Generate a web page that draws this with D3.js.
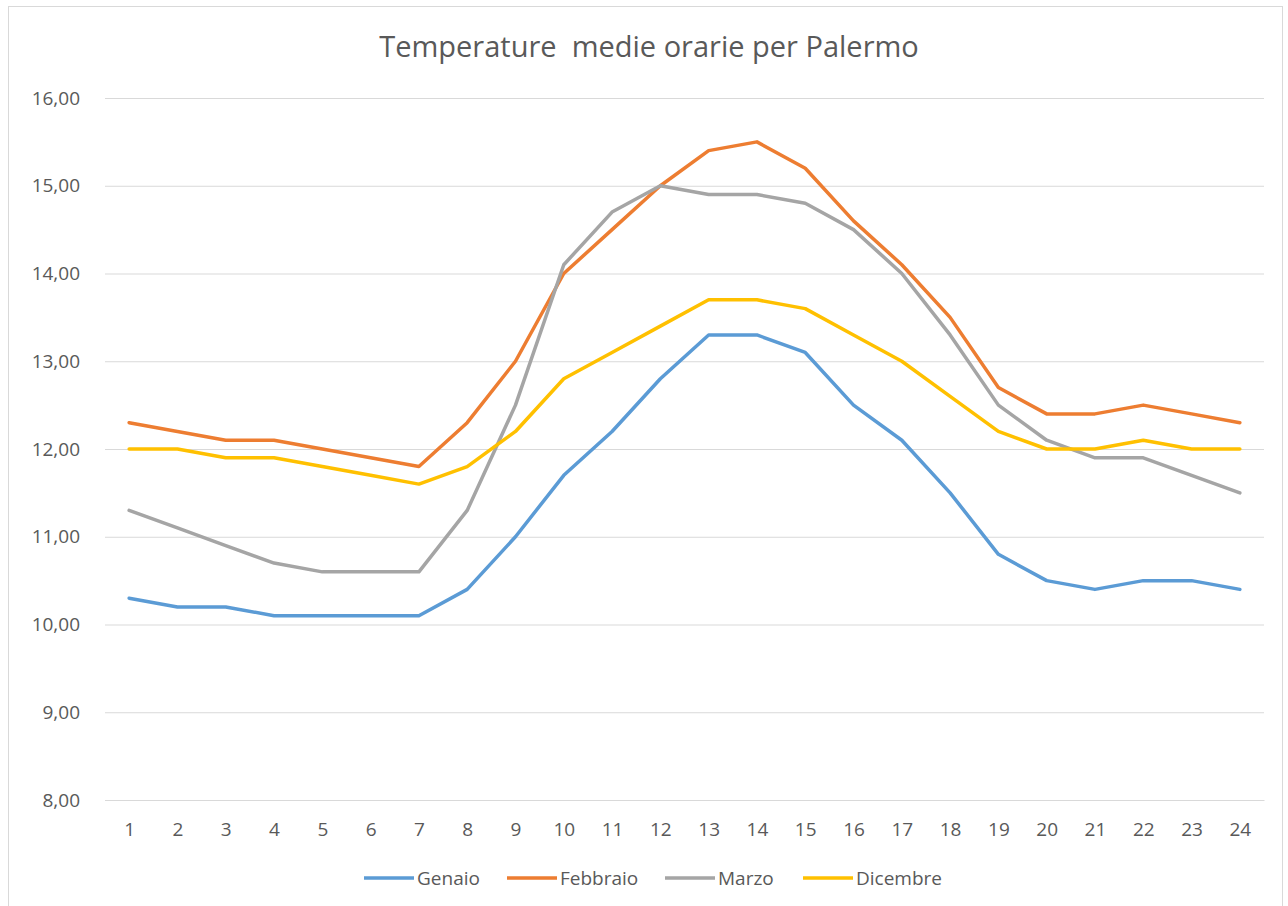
<!DOCTYPE html>
<html>
<head>
<meta charset="utf-8">
<script src="https://cdn.jsdelivr.net/npm/d3@7"></script>
<style>
  body { margin: 0; background: #fff; }
  text { font-family: "Open Sans", "Noto Sans", sans-serif; fill: #595959; }
</style>
</head>
<body>
<div id="viz"></div>
<script>
// ore del giorno
var hours = d3.range(1, 25);
var yTicks = [8, 9, 10, 11, 12, 13, 14, 15, 16];

var genaio    = [10.3,10.2,10.2,10.1,10.1,10.1,10.1,10.4,11.0,11.7,12.2,12.8,13.3,13.3,13.1,12.5,12.1,11.5,10.8,10.5,10.4,10.5,10.5,10.4];
var febbraio  = [12.3,12.2,12.1,12.1,12.0,11.9,11.8,12.3,13.0,14.0,14.5,15.0,15.4,15.5,15.2,14.6,14.1,13.5,12.7,12.4,12.4,12.5,12.4,12.3];
var marzo     = [11.3,11.1,10.9,10.7,10.6,10.6,10.6,11.3,12.5,14.1,14.7,15.0,14.9,14.9,14.8,14.5,14.0,13.3,12.5,12.1,11.9,11.9,11.7,11.5];
var dicembre  = [12.0,12.0,11.9,11.9,11.8,11.7,11.6,11.8,12.2,12.8,13.1,13.4,13.7,13.7,13.6,13.3,13.0,12.6,12.2,12.0,12.0,12.1,12.0,12.0];

var seriesNames = ["Genaio", "Febbraio", "Marzo", "Dicembre"];
var seriesColors = ["#5B9BD5", "#ED7D31", "#A5A5A5", "#FFC000"];
var series = [genaio, febbraio, marzo, dicembre];

var W = 1288, H = 906;
var svg = d3.select("#viz").append("svg")
    .attr("width", W).attr("height", H);

// bordo del grafico
svg.append("rect")
    .attr("x", 8.5).attr("y", 6.5)
    .attr("width", 1274).attr("height", 910)
    .attr("fill", "#fff").attr("stroke", "#d9d9d9");

var plotL = 105, plotR = 1264, plotT = 98, plotB = 800;

var x = d3.scalePoint().domain(hours).range([plotL, plotR]).padding(0.5);
var y = d3.scaleLinear().domain([8, 16]).range([plotB, plotT]);

svg.append("text")
    .attr("x", 649).attr("y", 57)
    .attr("text-anchor", "middle")
    .style("font-size", "29px")
    .style("white-space", "pre")
    .text("Temperature  medie orarie per Palermo");

// griglia
var yAxis = d3.axisLeft(y).tickValues(yTicks)
    .tickSize(-(plotR - plotL))
    .tickPadding(25)
    .tickFormat(function(d) { return d3.format(".2f")(d).replace(".", ","); });

var gy = svg.append("g").attr("transform", "translate(" + plotL + ",0)").call(yAxis);
gy.select(".domain").remove();
gy.selectAll("line").attr("stroke", "#d9d9d9");
gy.selectAll("text").style("font-size", "19px").attr("fill", "#595959");

var xAxis = d3.axisBottom(x).tickSize(0).tickPadding(23);
var gx = svg.append("g").attr("transform", "translate(0," + plotB + ")").call(xAxis);
gx.select(".domain").attr("stroke", "#d9d9d9");
gx.selectAll("text").style("font-size", "19px").attr("fill", "#595959");

var line = d3.line()
    .x(function(d, i) { return x(hours[i]); })
    .y(function(d) { return y(d); });

svg.selectAll(".serie")
    .data(series)
    .enter().append("path")
    .attr("class", "serie")
    .attr("d", line)
    .attr("fill", "none")
    .attr("stroke", function(d, i) { return seriesColors[i]; })
    .attr("stroke-width", 3.5)
    .attr("stroke-linejoin", "round")
    .attr("stroke-linecap", "round");

// legenda
var legendX = [364, 507, 665, 803];
var lg = svg.selectAll(".leg")
    .data(seriesNames)
    .enter().append("g")
    .attr("class", "leg")
    .attr("transform", function(d, i) { return "translate(" + legendX[i] + ",878)"; });

lg.append("line")
    .attr("x1", 0).attr("x2", 50)
    .attr("stroke", function(d, i) { return seriesColors[i]; })
    .attr("stroke-width", 3.5);

lg.append("text")
    .attr("x", 53).attr("y", 7)
    .style("font-size", "19px")
    .text(function(d) { return d; });
</script>
</body>
</html>
